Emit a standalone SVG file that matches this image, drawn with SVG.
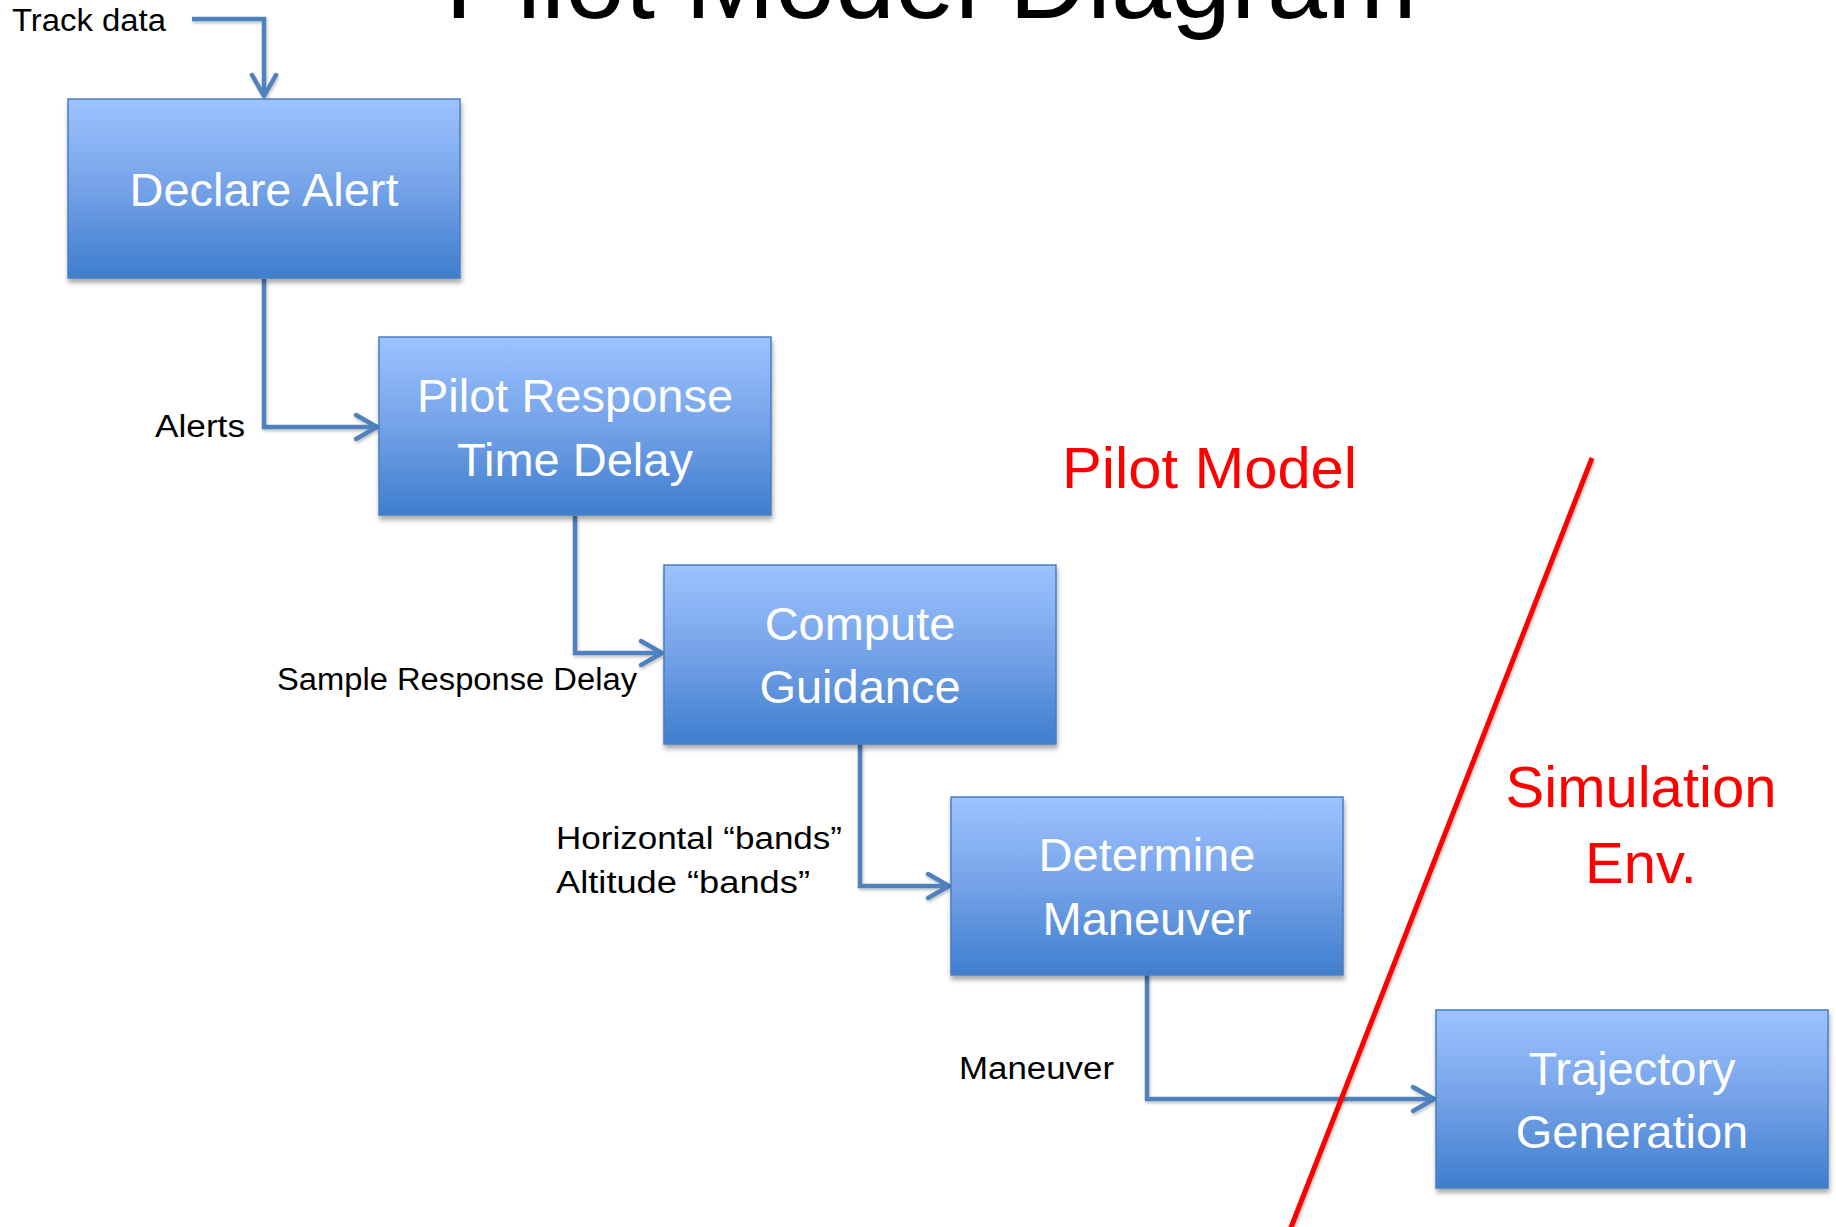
<svg xmlns="http://www.w3.org/2000/svg" width="1836" height="1227" viewBox="0 0 1836 1227">
  <style>
    .box { fill: url(#boxGrad); stroke: #4A7EC0; stroke-width: 1.5; filter: url(#shadow); }
    .boxText { font-family: "Liberation Sans", Arial, sans-serif; font-size: 47px; fill: #FFFFFF; text-anchor: middle; }
    .label { font-family: "Liberation Sans", Arial, sans-serif; font-size: 31px; fill: #000000; }
    .red { font-family: "Liberation Sans", Arial, sans-serif; font-size: 58px; fill: #FF0000; }
    .title { font-family: "Liberation Sans", Arial, sans-serif; font-size: 107px; fill: #000000; }
    .conn { fill: none; stroke: #4F81BD; stroke-width: 4.5; stroke-linejoin: miter; marker-end: url(#arrow); filter: url(#lineShadow); }
  </style>
  <defs>
    <linearGradient id="boxGrad" x1="0" y1="0" x2="0" y2="1">
      <stop offset="0" stop-color="#9DC3FF"/>
      <stop offset="0.5" stop-color="#74A2E8"/>
      <stop offset="1" stop-color="#3E7ECD"/>
    </linearGradient>
    <filter id="shadow" x="-5%" y="-5%" width="115%" height="120%">
      <feDropShadow dx="1" dy="4" stdDeviation="2.5" flood-color="#000000" flood-opacity="0.35"/>
    </filter>
    <filter id="lineShadow" x="-20%" y="-20%" width="140%" height="140%">
      <feDropShadow dx="1" dy="2" stdDeviation="1.5" flood-color="#000000" flood-opacity="0.25"/>
    </filter>
    <marker id="arrow" markerUnits="userSpaceOnUse" viewBox="-26 -16 30 32" refX="0" refY="0" markerWidth="30" markerHeight="32" orient="auto" overflow="visible">
      <path d="M-21,-12 L0,0 L-21,12" fill="none" stroke="#4F81BD" stroke-width="4.5" stroke-linecap="round" stroke-linejoin="round"/>
    </marker>
  </defs>

  <rect width="1836" height="1227" fill="#FFFFFF"/>

  <text class="title" x="445" y="18" textLength="972" lengthAdjust="spacingAndGlyphs">Pilot Model Diagram</text>

  <g id="connectors">
    <path class="conn" d="M192,19 H264 V96"/>
    <path class="conn" d="M264,279 V427 H377"/>
    <path class="conn" d="M575,516 V653 H662"/>
    <path class="conn" d="M860,744 V886 H949"/>
    <path class="conn" d="M1147,975 V1099 H1434"/>
  </g>

  <g id="labels">
    <text class="label" x="12" y="31" textLength="154" lengthAdjust="spacingAndGlyphs">Track data</text>
    <text class="label" x="155" y="437" textLength="90" lengthAdjust="spacingAndGlyphs">Alerts</text>
    <text class="label" x="277" y="690" textLength="360" lengthAdjust="spacingAndGlyphs">Sample Response Delay</text>
    <text class="label" x="556" y="849" textLength="286" lengthAdjust="spacingAndGlyphs">Horizontal “bands”</text>
    <text class="label" x="556" y="893" textLength="254" lengthAdjust="spacingAndGlyphs">Altitude “bands”</text>
    <text class="label" x="959" y="1079" textLength="155" lengthAdjust="spacingAndGlyphs">Maneuver</text>
  </g>

  <g id="declare-alert">
    <rect class="box" x="68" y="99" width="392" height="179"/>
    <text class="boxText" x="264" y="206">Declare Alert</text>
  </g>

  <g id="pilot-response-time-delay">
    <rect class="box" x="379" y="337" width="392" height="178"/>
    <text class="boxText" x="575" y="412">Pilot Response</text>
    <text class="boxText" x="575" y="476">Time Delay</text>
  </g>

  <g id="compute-guidance">
    <rect class="box" x="664" y="565" width="392" height="179"/>
    <text class="boxText" x="860" y="640">Compute</text>
    <text class="boxText" x="860" y="703">Guidance</text>
  </g>

  <g id="determine-maneuver">
    <rect class="box" x="951" y="797" width="392" height="178"/>
    <text class="boxText" x="1147" y="871">Determine</text>
    <text class="boxText" x="1147" y="935">Maneuver</text>
  </g>

  <g id="trajectory-generation">
    <rect class="box" x="1436" y="1010" width="392" height="178"/>
    <text class="boxText" x="1632" y="1085">Trajectory</text>
    <text class="boxText" x="1632" y="1148">Generation</text>
  </g>

  <g id="boundary">
    <line x1="1592" y1="458" x2="1290" y2="1230" stroke="#FF0000" stroke-width="5" filter="url(#lineShadow)"/>
    <text class="red" x="1062" y="488" textLength="295" lengthAdjust="spacingAndGlyphs">Pilot Model</text>
    <text class="red" x="1641" y="807" text-anchor="middle">Simulation</text>
    <text class="red" x="1641" y="883" text-anchor="middle">Env.</text>
  </g>
</svg>
